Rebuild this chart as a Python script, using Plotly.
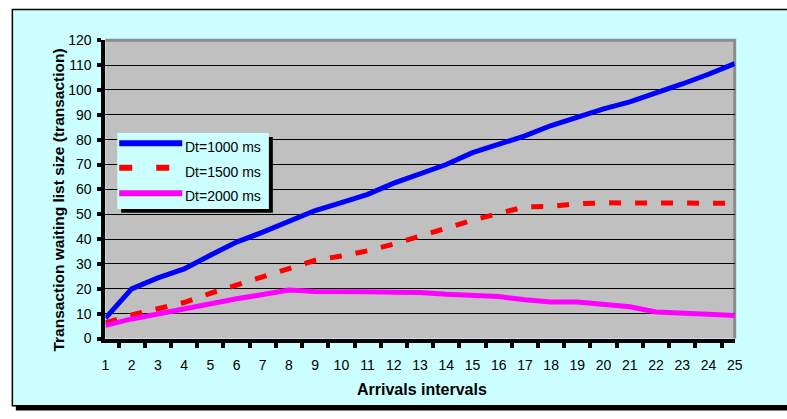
import plotly.graph_objects as go

# Arrival interval index (category axis)
intervals = [str(i) for i in range(1, 26)]

series_names = ["Dt=1000 ms", "Dt=1500 ms", "Dt=2000 ms"]

# Waiting list size (transactions) per arrival interval
dt1000 = [8.2, 20.0, 24.4, 28.0, 33.5, 38.8, 42.8, 47.3, 51.5, 54.7, 58.0, 62.5, 66.5,
          70.0, 74.8, 78.0, 81.5, 85.7, 89.3, 92.4, 95.2, 98.7, 102.4, 106.3, 110.6]
dt1500 = [6.3, 9.5, 12.0, 14.5, 18.2, 21.5, 25.0, 28.3, 31.5, 33.2, 35.3, 38.0, 41.4,
          44.4, 47.6, 50.2, 53.0, 53.2, 54.2, 54.6, 54.7, 54.8, 54.5, 54.4, 54.5]
dt2000 = [5.3, 7.9, 9.9, 12.1, 14.0, 16.0, 17.7, 19.5, 18.9, 19.0, 18.8, 18.6, 18.5,
          17.8, 17.6, 16.9, 15.6, 14.7, 14.7, 13.8, 12.8, 10.7, 10.5, 9.8, 9.3]

y_ticks = list(range(0, 121, 10))

W, H = 787, 419
CYAN = "#CCFFFF"
FONT = "Arial, Liberation Sans, sans-serif"


def px(x):
    return x / W


def py(y):
    return 1 - y / H


# plot area in pixels
X0, X1, Y0, Y1 = 103, 742, 33.5, 343.7

fig = go.Figure()

colors = ["#0000FF", "#FF0000", "#FF00FF"]
dashes = ["solid", "12px,14px", "solid"]
for name, vals, col, dash in zip(series_names, [dt1000, dt1500, dt2000], colors, dashes):
    fig.add_trace(go.Scatter(
        x=intervals, y=vals, name=name, mode="lines",
        line=dict(color=col, width=5, dash=dash),
        showlegend=False, hoverinfo="skip",
    ))

shapes = [
    # chart area shadow and frame
    dict(type="rect", xref="paper", yref="paper", x0=px(12), x1=px(800), y0=py(418.5), y1=py(5),
         fillcolor="black", line=dict(width=0), layer="below"),
    dict(type="rect", xref="paper", yref="paper", x0=px(8.5), x1=px(800), y0=py(413.5), y1=py(1.5),
         fillcolor=CYAN, line=dict(color="black", width=1.5), layer="below"),
    # plot area background
    dict(type="rect", xref="paper", yref="paper", x0=px(X0), x1=px(X1), y0=py(Y1), y1=py(Y0),
         fillcolor="#C0C0C0", line=dict(width=0), layer="below"),
    # plot area top/right border
    dict(type="path", xref="paper", yref="paper",
         path=f"M {px(X0)} {py(Y0)} L {px(X1)} {py(Y0)} L {px(X1)} {py(Y1)}",
         line=dict(color="#8C8C8C", width=3), layer="below"),
]

# legend box with shadow
LX0, LX1, LY0, LY1 = 115, 269, 130, 209
shapes += [
    dict(type="rect", xref="paper", yref="paper", x0=px(LX0 + 4), x1=px(LX1 + 4), y0=py(LY1 + 4), y1=py(LY0 + 4),
         fillcolor="black", line=dict(width=0), layer="above"),
    dict(type="rect", xref="paper", yref="paper", x0=px(LX0), x1=px(LX1), y0=py(LY1), y1=py(LY0),
         fillcolor=CYAN, line=dict(width=0), layer="above"),
]
legend_line_y = [140.5, 166, 192.5]
legend_text_y = [144, 170, 195]
legend_dash = ["solid", "13px,24px", "solid"]
annotations = []
for name, col, ly, ty, dash in zip(series_names, colors, legend_line_y, legend_text_y, legend_dash):
    shapes.append(dict(type="line", xref="paper", yref="paper", x0=px(117), x1=px(181), y0=py(ly), y1=py(ly),
                       line=dict(color=col, width=6, dash=dash), layer="above"))
    annotations.append(dict(xref="paper", yref="paper", x=px(182), y=py(ty), text=name, showarrow=False,
                            xanchor="left", yanchor="middle", font=dict(family=FONT, size=14, color="black")))

# axis titles
annotations += [
    dict(xref="paper", yref="paper", x=px(424), y=py(397), text="Arrivals intervals", showarrow=False,
         xanchor="center", yanchor="middle", font=dict(family=FONT, size=16, color="black", weight="bold")),
    dict(xref="paper", yref="paper", x=px(55), y=py(200), text="Transaction waiting list size (transaction)",
         showarrow=False, textangle=-90, xanchor="center", yanchor="middle",
         font=dict(family=FONT, size=15.5, color="black", weight="bold")),
]

fig.update_layout(
    width=W, height=H,
    margin=dict(l=0, r=0, t=0, b=0),
    paper_bgcolor="white",
    plot_bgcolor="rgba(0,0,0,0)",
    shapes=shapes,
    annotations=annotations,
    showlegend=False,
    xaxis=dict(
        domain=[px(X0), px(X1)], type="category", categoryorder="array", categoryarray=intervals,
        tickson="boundaries", ticks="outside", ticklen=5, tickwidth=4, tickcolor="black",
        showline=True, linecolor="black", linewidth=4, showgrid=False, zeroline=False,
        tickangle=0,
        tickfont=dict(family=FONT, size=14, color="black"), ticklabelstandoff=11,
        fixedrange=True,
    ),
    yaxis=dict(
        domain=[py(Y1), py(Y0)], range=[0, 120], tickvals=y_ticks,
        ticks="outside", ticklen=4, tickwidth=4, tickcolor="black",
        showline=True, linecolor="black", linewidth=4,
        showgrid=True, gridcolor="black", gridwidth=1, zeroline=False,
        tickfont=dict(family=FONT, size=14, color="black"), ticklabelstandoff=3,
        fixedrange=True,
    ),
)

fig.write_html("out.html")
